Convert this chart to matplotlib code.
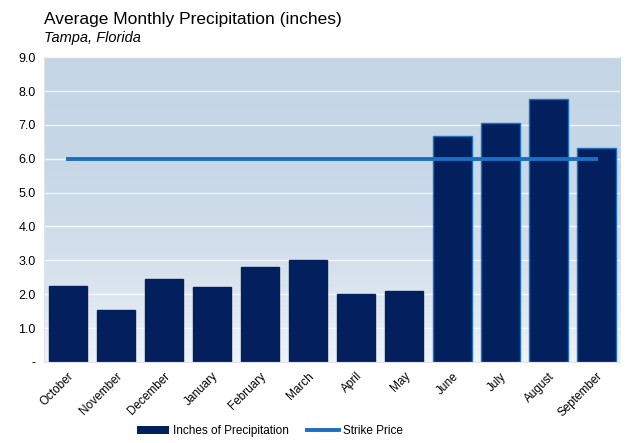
import matplotlib.pyplot as plt
import numpy as np
from matplotlib.colors import LinearSegmentedColormap
from matplotlib.lines import Line2D
from matplotlib.patches import Patch

plt.rcParams['font.family'] = ['Liberation Sans', 'DejaVu Sans']

# Data
months = ['October', 'November', 'December', 'January', 'February', 'March',
          'April', 'May', 'June', 'July', 'August', 'September']
precip = [2.24, 1.53, 2.45, 2.21, 2.80, 3.01, 2.00, 2.09, 6.67, 7.05, 7.76, 6.31]
strike = [6.0] * len(months)
yticks = [0, 1, 2, 3, 4, 5, 6, 7, 8, 9]
ytick_labels = ['-', '1.0', '2.0', '3.0', '4.0', '5.0', '6.0', '7.0', '8.0', '9.0']

bar_color = '#03205e'
line_color = '#1b6fc2'

fig = plt.figure(figsize=(6.28, 4.43), dpi=100)
ax = fig.add_axes([0.070, 0.183, 0.918, 0.688])

# Pale rainy-sky backdrop, whiter toward the ground
x = np.arange(len(months))
grad = np.linspace(0, 1, 256).reshape(-1, 1)
cmap = LinearSegmentedColormap.from_list('sky', ['#eef3f8', '#d4e0ec', '#c6d7e7', '#c4d5e6'])
ax.imshow(grad, aspect='auto', cmap=cmap, extent=[-0.5, 11.5, 0, 9],
          origin='lower', zorder=0)

ax.set_xlim(-0.5, 11.5)
ax.set_ylim(0, 9)

for y in yticks[1:]:
    ax.axhline(y, color='white', lw=1.0, alpha=0.8, zorder=1)

edges = [bar_color] * 8 + [line_color] * 4
ax.bar(x, precip, width=0.8, color=bar_color, edgecolor=edges, linewidth=1.0, zorder=2)
ax.plot(x, strike, color=line_color, lw=2.8, zorder=3)

ax.set_yticks(yticks)
ax.set_yticklabels(ytick_labels, fontsize=9)
ax.set_xticks(x)
ax.set_xticklabels(months, rotation=45, ha='right', rotation_mode='anchor', fontsize=8.5)
ax.tick_params(length=0, pad=6)

for side in ['top', 'right']:
    ax.spines[side].set_visible(False)
for side in ['left', 'bottom']:
    ax.spines[side].set_color('#e3e3e3')

fig.text(0.070, 0.945, 'Average Monthly Precipitation (inches)', fontsize=12.5)
fig.text(0.070, 0.905, 'Tampa, Florida', fontsize=10.5, style='italic')

handles = [Patch(facecolor=bar_color, label='Inches of Precipitation'),
           Line2D([0], [0], color=line_color, lw=2.8, label='Strike Price')]
fig.legend(handles=handles, loc='lower center', ncol=2, frameon=False,
           fontsize=8.5, bbox_to_anchor=(0.43, -0.01), handlelength=2.7,
           handletextpad=0.4, columnspacing=1.5)

plt.savefig('out.png', dpi=100)
